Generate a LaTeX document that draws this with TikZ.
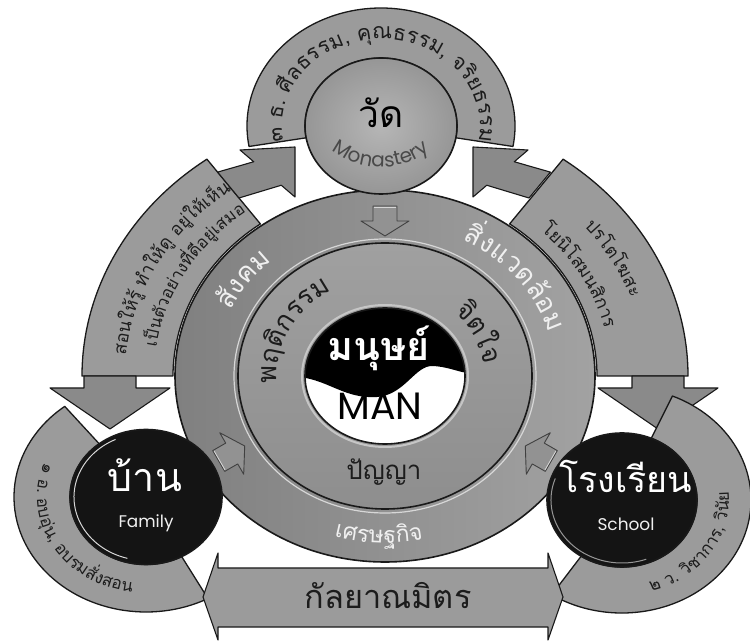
\documentclass[tikz,border=0pt]{standalone}
\usepackage{fontspec}
\usetikzlibrary{calc,decorations.text}
\newfontfamily\thaifont[Script=Thai]{Loma}
\newfontfamily\latfont{Poppins}
\definecolor{bandgray}{RGB}{155,155,155}
\definecolor{arrowgray}{RGB}{138,138,138}
\definecolor{edgec}{RGB}{25,25,25}
\definecolor{ringA}{RGB}{128,128,128}
\definecolor{ringB}{RGB}{162,162,162}
\definecolor{diskA}{RGB}{142,142,142}
\definecolor{diskB}{RGB}{160,160,160}
\definecolor{watA}{RGB}{182,182,182}
\definecolor{watB}{RGB}{150,150,150}
\definecolor{darktext}{RGB}{28,28,28}
\definecolor{softwhite}{RGB}{240,240,240}
\definecolor{rimc}{RGB}{215,215,215}
\newcommand\tsz[1]{\thaifont\fontsize{#1}{#1}\selectfont}
\newcommand\fTop{\tsz{21.5}}
\newcommand\fBand{\tsz{17}}
\newcommand\fArrA{\tsz{18}}
\newcommand\fArrB{\tsz{17}}
\newcommand\fRing{\tsz{27}}
\newcommand\fEco{\tsz{23}}
\newcommand\fInner{\tsz{27}}
\newcommand\fMon{\latfont\fontsize{20}{20}\selectfont}
\begin{document}
\begin{tikzpicture}[x=1pt,y=1pt,
  band/.style={fill=bandgray,draw=edgec,line width=1.3pt,line join=round},
  arrowbody/.style={fill=arrowgray,draw=edgec,line width=1.1pt,line join=round},
  smallarrow/.style={fill=ringB!90!black,draw=black!75,line width=0.9pt,line join=round},
  curvetext/.style={decorate,decoration={text along path,text align=center,text color=#1}}]
\useasboundingbox (0,0) rectangle (750,643);
\coordinate (C) at (385,267);
\coordinate (M) at (381,517);
\coordinate (F) at (146,146);
\coordinate (S) at (622,143);
% big curved bands
\draw[band] ($(C)+(126:303 and 268)$) arc[start angle=126,end angle=180,x radius=303,y radius=268]
  -- ($(C)+(180:212 and 188)$) arc[start angle=180,end angle=126,x radius=212,y radius=188] -- cycle;
\draw[band] ($(C)+(0:303 and 268)$) arc[start angle=0,end angle=54,x radius=303,y radius=268]
  -- ($(C)+(54:212 and 188)$) arc[start angle=54,end angle=0,x radius=212,y radius=188] -- cycle;
% arrow heads of big bands
\draw[arrowbody] (84,267) -- (84,255) -- (50,255) -- (110,214) -- (170,255) -- (136,255) -- (136,267) -- cycle;
\draw[arrowbody] (684,267) -- (684,255) -- (718,255) -- (658,214) -- (598,255) -- (632,255) -- (632,267) -- cycle;
\draw[arrowbody] (217.6,470.9) -- (253.75,481.25) -- (240,493) -- (295,496) -- (295,446) -- (281.25,457.75) -- (239,445) -- cycle;
\draw[arrowbody] (550.4,470.9) -- (514.25,481.25) -- (528,493) -- (473,496) -- (473,446) -- (486.75,457.75) -- (529,445) -- cycle;
% band around monastery
\draw[band] ($(M)+(-10:134 and 118)$) arc[start angle=-10,end angle=190,x radius=134,y radius=118]
  -- ($(M)+(190:76 and 68)$) arc[start angle=190,end angle=-10,x radius=76,y radius=68] -- cycle;
% band around family
\draw[band] ($(F)+(128:132 and 115)$) arc[start angle=128,end angle=298,x radius=132,y radius=115]
  -- ($(F)+(298:76 and 67.5)$) arc[start angle=298,end angle=128,x radius=76,y radius=67.5] -- cycle;
% band around school
\draw[band] ($(S)+(-123:129 and 113)$) arc[start angle=-123,end angle=67,x radius=129,y radius=113]
  -- ($(S)+(67:75 and 67)$) arc[start angle=67,end angle=-123,x radius=75,y radius=67] -- cycle;
% bottom double arrow
\draw[arrowbody,fill=bandgray] (218,75) -- (218,90) -- (203,46) -- (218,3) -- (218,16) -- (548,16)
  -- (548,3) -- (563,46) -- (548,90) -- (548,75) -- cycle;
% central rings
\path[draw=edgec,line width=1.6pt,left color=ringA,right color=ringB] (C) ellipse[x radius=210,y radius=186];
\draw[rimc,line width=1.2pt] (C) ellipse[x radius=151,y radius=137];
\path[draw=edgec,line width=1.6pt,top color=diskB,bottom color=diskA] (C) ellipse[x radius=147,y radius=133];
\draw[rimc!80!gray,line width=2pt] (C) ellipse[x radius=83,y radius=71];
\begin{scope}
  \clip (C) ellipse[x radius=80,y radius=68];
  \fill[white] (C) ellipse[x radius=80,y radius=68];
  \fill[black] (300,266) .. controls (330,262) and (345,244) .. (377,246)
    .. controls (405,248) and (415,278) .. (433,277)
    .. controls (450,276) and (460,270) .. (470,270) -- (470,340) -- (300,340) -- cycle;
\end{scope}
\draw[edgec,line width=1.6pt] (C) ellipse[x radius=80,y radius=68];
% small arrows on the ring
\foreach \a/\r in {90/270,210/30,330/150}{
  \begin{scope}[shift={($(C)+(\a:192 and 170)$)},rotate=\r]
    \draw[smallarrow] (0,-12) -- (15,-12) -- (15,-24) -- (30,0) -- (15,24) -- (15,12) -- (0,12) -- cycle;
    \draw[rimc,line width=0.8pt] (1,-11) -- (1,11);
  \end{scope}}
% circles
\path[draw=edgec,line width=1.6pt,inner color=watA,outer color=watB] (M) ellipse[x radius=76,y radius=68];
\path[fill=black!92,draw=edgec,line width=1.6pt] (F) ellipse[x radius=76,y radius=67.5];
\draw[rimc,line width=1pt] ($(F)+(115:72 and 63.5)$) arc[start angle=115,end angle=255,x radius=72,y radius=63.5];
\path[fill=black!92,draw=edgec,line width=1.6pt] (S) ellipse[x radius=75,y radius=67];
\draw[rimc!70!black,line width=1pt] ($(S)+(160:71 and 63)$) arc[start angle=160,end angle=290,x radius=71,y radius=63];
% straight texts
\node[anchor=base,text=black] (wat) at (381,515) {\resizebox{45pt}{!}{\thaifont วัด}};
\node[anchor=base,text=white] (manth) at (379,282) {\resizebox{102pt}{!}{\thaifont\bfseries มนุษย์}};
\node[anchor=base,text=black] (manen) at (380,223) {\resizebox{85pt}{!}{\latfont MAN}};
\node[anchor=base,text=white] (ban) at (145,151) {\resizebox{74pt}{!}{\thaifont บ้าน}};
\node[anchor=base,text=softwhite] (fam) at (146,115) {\resizebox{55pt}{!}{\latfont Family}};
\node[anchor=base,text=white] (rong) at (626,150) {\resizebox{133pt}{!}{\thaifont โรงเรียน}};
\node[anchor=base,text=softwhite] (sch) at (626,113) {\resizebox{57pt}{!}{\latfont School}};
\node[anchor=base,text=darktext] (panya) at (384,163) {\resizebox{75pt}{!}{\thaifont ปัญญา}};
\node[anchor=base,text=darktext] (kalaya) at (388,35) {\resizebox{167pt}{!}{\thaifont กัลยาณมิตร}};
% curved texts
\path[curvetext=darktext!80!white,decoration={text={|\fMon|Monastery}}] ($(381,556)+(228:80)$) arc[start angle=228,end angle=312,radius=80];
\path[curvetext=darktext,decoration={text={|\fTop|๓ ธ. {ศี}ลธรรม, {คุ}ณธรรม, จ{ริ}ยธรรม}}] ($(M)+(195:99 and 87)$) arc[start angle=195,end angle=-15,x radius=99,y radius=87];
\path[curvetext=darktext,decoration={text={|\fBand|๑ อ. อบ{อุ่}น, อบรม{สั่}งสอน}}] ($(F)+(140:109 and 96)$) arc[start angle=140,end angle=280,x radius=109,y radius=96];
\path[curvetext=darktext,decoration={text={|\fBand|๒ ว. {วิ}ชาการ, {วิ}{นั}ย}}] ($(S)+(257:107 and 95)$) arc[start angle=257,end angle=397,x radius=107,y radius=95];
\path[curvetext=darktext,decoration={text={|\fArrA|สอนใ{ห้}{รู้} {ทำ}ใ{ห้}{ดู} อ{ยู่}ใ{ห้}เ{ห็}น}}] ($(C)+(185:260 and 230)$) arc[start angle=185,end angle=117,x radius=260,y radius=230];
\path[curvetext=darktext,decoration={text={|\fArrB|เ{ป็}น{ตั}วอ{ย่}าง{ที่}{ดี}อ{ยู่}เสมอ}}] ($(C)+(185:231 and 205)$) arc[start angle=185,end angle=115,x radius=231,y radius=205];
\path[curvetext=darktext,decoration={text={|\fArrA|ปรโตโฆสะ}}] ($(C)+(55:261 and 231)$) arc[start angle=55,end angle=4,x radius=261,y radius=231];
\path[curvetext=darktext,decoration={text={|\fArrA|โย{นิ}โสมน{สิ}การ}}] ($(C)+(60:226 and 200)$) arc[start angle=60,end angle=-1,x radius=226,y radius=200];
\path[curvetext=softwhite,decoration={text={|\fRing|{สั}งคม}}] ($(C)+(172:171 and 153)$) arc[start angle=172,end angle=115,x radius=171,y radius=153];
\path[curvetext=softwhite,decoration={text={|\fRing|{สิ่}งแวด{ล้}อม}}] ($(C)+(77:171 and 153)$) arc[start angle=77,end angle=1,x radius=171,y radius=153];
\path[curvetext=softwhite,decoration={text={|\fEco|เศรษฐ{กิ}จ}}] ($(C)+(233:187 and 167)$) arc[start angle=233,end angle=303,x radius=187,y radius=167];
\path[curvetext=darktext,decoration={text={|\fInner|พฤ{ติ}กรรม}}] ($(C)+(190:108 and 98)$) arc[start angle=190,end angle=114,x radius=108,y radius=98];
\path[curvetext=darktext,decoration={text={|\fInner|{จิ}ตใจ}}] ($(C)+(55:99 and 90)$) arc[start angle=55,end angle=-3,x radius=99,y radius=90];
\end{tikzpicture}
\end{document}
